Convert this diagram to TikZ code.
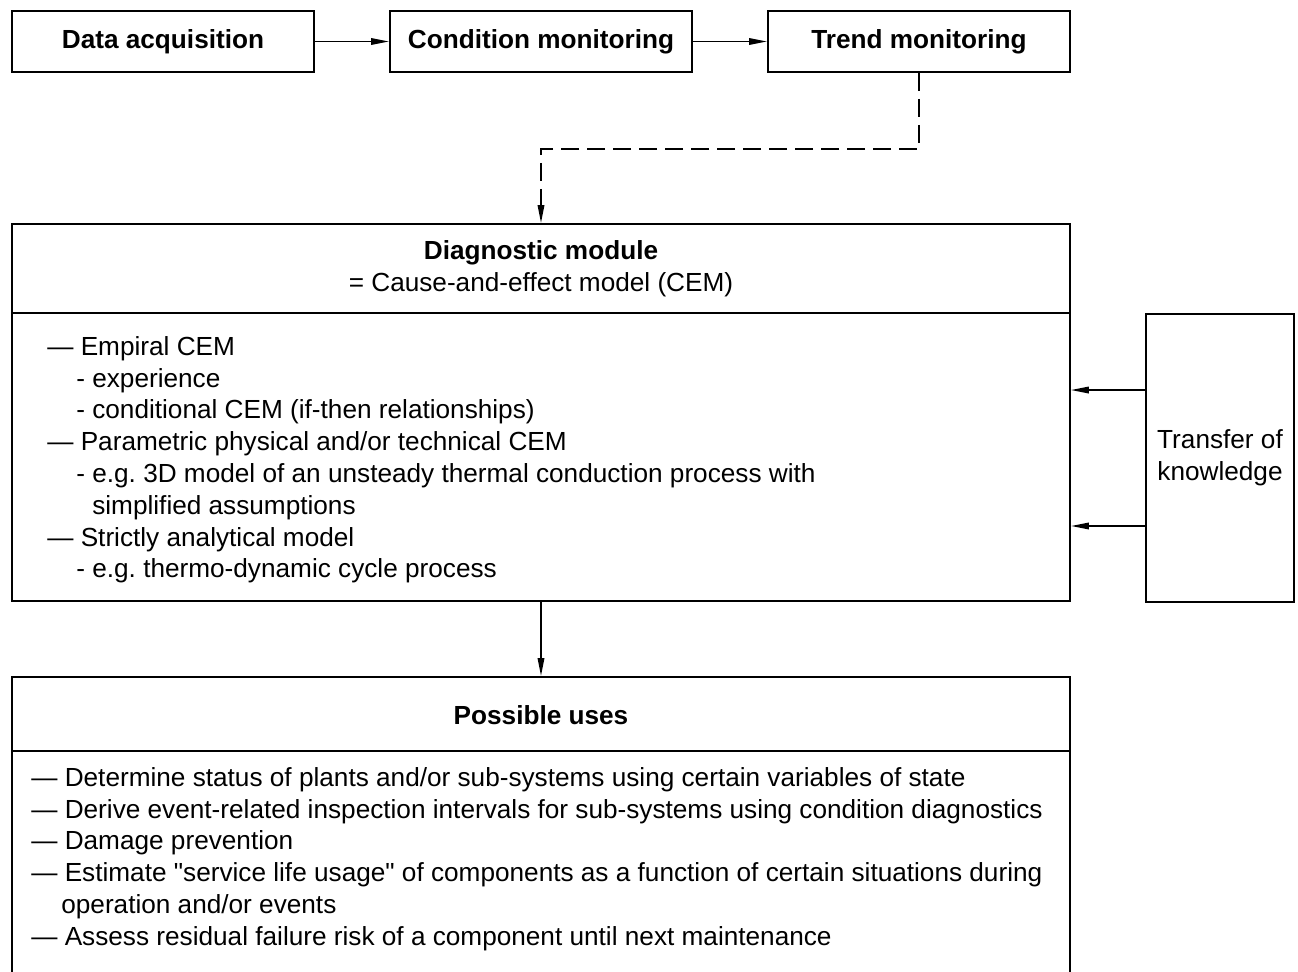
\documentclass[tikz,border=0pt]{standalone}
\usepackage{fontspec}
\setmainfont{Liberation Sans}[Ligatures=TeXOff]
\usetikzlibrary{arrows.meta}

\tikzset{
  box/.style={draw, line width=1.1pt, inner sep=0pt},
  headbox/.style={box, minimum width=6.04cm, minimum height=1.22cm},
  arr/.style={-{Triangle[length=0.36cm,width=0.13cm]}, line width=1pt},
}

\begin{document}
\frenchspacing
\begin{tikzpicture}[x=0.02cm, y=-0.02cm, font=\fontsize{14.9}{18.1}\selectfont]
\clip (0,0) rectangle (1298,971);

% top row
\node [headbox] (acq)   at (163,41.5) {\bfseries Data acquisition};
\node [headbox] (cond)  at (541,41.5) {\bfseries Condition monitoring};
\node [headbox] (trend) at (919,41.5) {\bfseries Trend monitoring};
\draw [arr] (acq) -- (cond);
\draw [arr] (cond) -- (trend);

% diagnostic module
\node [box, minimum width=21.16cm, minimum height=7.54cm] (diag) at (541,412.5) {};
\draw [line width=1.1pt] ([yshift=-1.8cm]diag.north west) -- ([yshift=-1.8cm]diag.north east);
\node [align=center] (diagtitle) at (541,269) {{\bfseries Diagnostic module}\\= Cause-and-effect model (CEM)};
\node [anchor=north west, align=left, inner sep=0pt] (diagtext) at (47,336) {%
— Empiral CEM\\
\hspace*{0.58cm}- experience\\
\hspace*{0.58cm}- conditional CEM (if-then relationships)\\
— Parametric physical and/or technical CEM\\
\hspace*{0.58cm}- e.g. 3D model of an unsteady thermal conduction process with\\
\hspace*{0.58cm}\phantom{- }simplified assumptions\\
— Strictly analytical model\\
\hspace*{0.58cm}- e.g. thermo-dynamic cycle process};

\draw [arr, dash pattern=on 0.36cm off 0.16cm] (trend.south) -- ++(0,76) -| (diag.north);

% transfer of knowledge
\node [box, minimum width=2.96cm, minimum height=5.76cm, align=center] (know) at (1220,458) {Transfer of\\knowledge};
\draw [arr] ([yshift=1.36cm]know.west) -- ([yshift=1.36cm]know.west -| diag.east);
\draw [arr] ([yshift=-1.36cm]know.west) -- ([yshift=-1.36cm]know.west -| diag.east);

% possible uses
\node [box, minimum width=21.16cm, minimum height=6.26cm] (uses) at (541,833.5) {};
\draw [line width=1.1pt] ([yshift=-1.5cm]uses.north west) -- ([yshift=-1.5cm]uses.north east);
\node (usestitle) at (541,715) {\bfseries Possible uses};
\node [anchor=north west, align=left, inner sep=0pt] (usestext) at (31,767) {%
— Determine status of plants and/or sub-systems using certain variables of state\\
— Derive event-related inspection intervals for sub-systems using condition diagnostics\\
— Damage prevention\\
— Estimate "service life usage" of components as a function of certain situations during\\
\hspace*{0.6cm}operation and/or events\\
— Assess residual failure risk of a component until next maintenance};
\draw [arr] (diag) -- (uses);

\end{tikzpicture}
\end{document}
